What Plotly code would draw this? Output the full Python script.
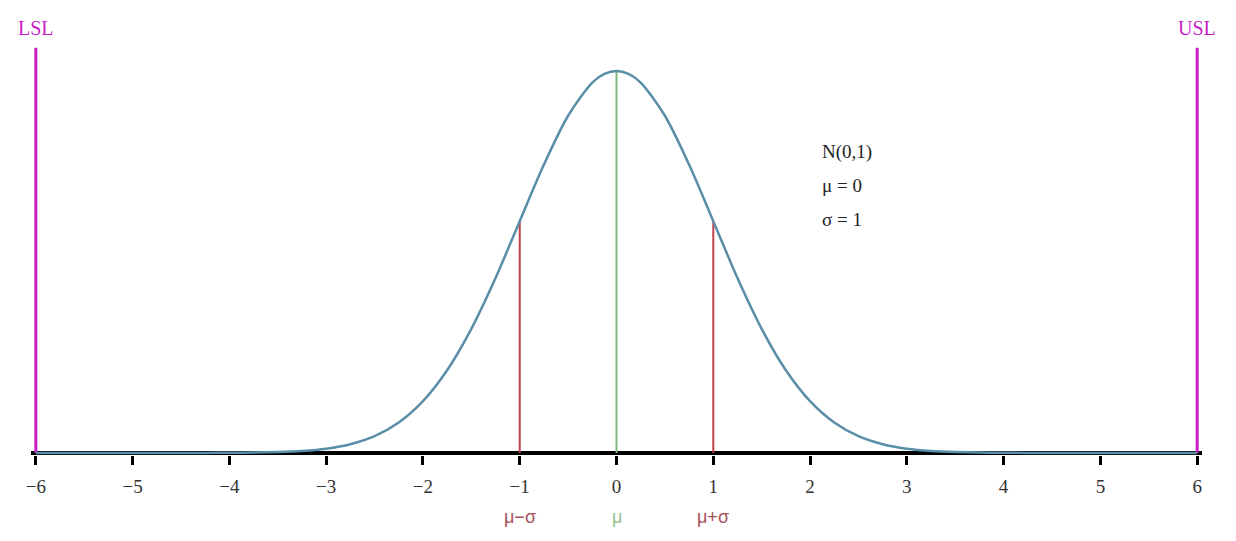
import plotly.graph_objects as go

# Curve values (standard normal density)
curve_x = [-6.0, -5.75, -5.5, -5.25, -5.0, -4.75, -4.5, -4.25, -4.0, -3.75, -3.5, -3.25,
           -3.0, -2.75, -2.5, -2.25, -2.0, -1.75, -1.5, -1.25, -1.0, -0.75, -0.5, -0.25, -0.125,
           0.0, 0.125, 0.25, 0.5, 0.75, 1.0, 1.25, 1.5, 1.75, 2.0, 2.25, 2.5, 2.75,
           3.0, 3.25, 3.5, 3.75, 4.0, 4.25, 4.5, 4.75, 5.0, 5.25, 5.5, 5.75, 6.0]
curve_y = [0.0, 0.0, 0.0, 0.0, 0.0, 0.0, 0.0, 0.0, 0.0001, 0.0004, 0.0009, 0.0020,
           0.0044, 0.0091, 0.0175, 0.0317, 0.0540, 0.0863, 0.1295, 0.1826, 0.2420, 0.3011, 0.3521, 0.3867, 0.3958,
           0.3989, 0.3958, 0.3867, 0.3521, 0.3011, 0.2420, 0.1826, 0.1295, 0.0863, 0.0540, 0.0317, 0.0175, 0.0091,
           0.0044, 0.0020, 0.0009, 0.0004, 0.0001, 0.0, 0.0, 0.0, 0.0, 0.0, 0.0, 0.0, 0.0]

tick_vals = [-6, -5, -4, -3, -2, -1, 0, 1, 2, 3, 4, 5, 6]
axis_span = [-6.05, 6.05]

# Reference lines
spec_x = [-6, 6]
spec_labels = ["LSL", "USL"]
spec_height = 0.423
sigma_x = [-1, 0, 1]
sigma_heights = [0.2420, 0.3989, 0.2420]
sigma_labels = ["μ−σ", "μ", "μ+σ"]
sigma_colors = ["#c0404e", "#7fb87f", "#c0404e"]
sigma_label_colors = ["#a8505a", "#8fbf8f", "#a8505a"]
info_lines = ["N(0,1)", "μ = 0", "σ = 1"]

MAGENTA = "#c71fc7"

fig = go.Figure()

# Baseline (x axis line)
fig.add_trace(go.Scatter(x=axis_span, y=[0, 0], mode="lines",
                         line=dict(color="black", width=4), cliponaxis=False,
                         hoverinfo="skip", showlegend=False))

# Spec limit lines
for sx in spec_x:
    fig.add_trace(go.Scatter(x=[sx, sx], y=[0, spec_height], mode="lines",
                             line=dict(color=MAGENTA, width=3), cliponaxis=False,
                             hoverinfo="skip", showlegend=False))

# Sigma/mean lines
for sx, sh, sc in zip(sigma_x, sigma_heights, sigma_colors):
    fig.add_trace(go.Scatter(x=[sx, sx], y=[0, sh], mode="lines",
                             line=dict(color=sc, width=2), cliponaxis=False,
                             hoverinfo="skip", showlegend=False))

# Curve
fig.add_trace(go.Scatter(x=curve_x, y=curve_y, mode="lines",
                         line=dict(color="#5a8ea8", width=2.5, shape="spline", smoothing=0.8),
                         cliponaxis=False, showlegend=False))

annotations = []
for sx, lab in zip(spec_x, spec_labels):
    annotations.append(dict(x=sx, y=spec_height, xref="x", yref="y", text=lab,
                            showarrow=False, yanchor="bottom", yshift=7,
                            font=dict(family="Liberation Serif", size=20, color=MAGENTA)))
for sx, lab, lc in zip(sigma_x, sigma_labels, sigma_label_colors):
    annotations.append(dict(x=sx, y=0, xref="x", yref="y", text=lab,
                            showarrow=False, yanchor="middle", yshift=-64,
                            font=dict(family="Liberation Sans", size=18, color=lc)))
for i, line in enumerate(info_lines):
    annotations.append(dict(x=2.1, y=0.3989, xref="x", yref="y", text=line,
                            showarrow=False, xanchor="left", yanchor="middle",
                            yshift=-81 - 34 * i,
                            font=dict(family="Liberation Serif", size=19, color="#222222")))

fig.update_layout(
    width=1220, height=525,
    margin=dict(l=23, r=26, t=14, b=78),
    plot_bgcolor="white", paper_bgcolor="white",
    xaxis=dict(range=axis_span, tickvals=tick_vals, showgrid=False, zeroline=False,
               showline=False, ticks="outside", ticklen=9, tickwidth=2.5, tickcolor="black",
               ticklabelstandoff=5,
               tickfont=dict(family="Liberation Serif", size=19, color="#333333")),
    yaxis=dict(range=[-0.0022, 0.45], visible=False, showgrid=False, zeroline=False),
    annotations=annotations,
)

fig.write_html("out.html")
